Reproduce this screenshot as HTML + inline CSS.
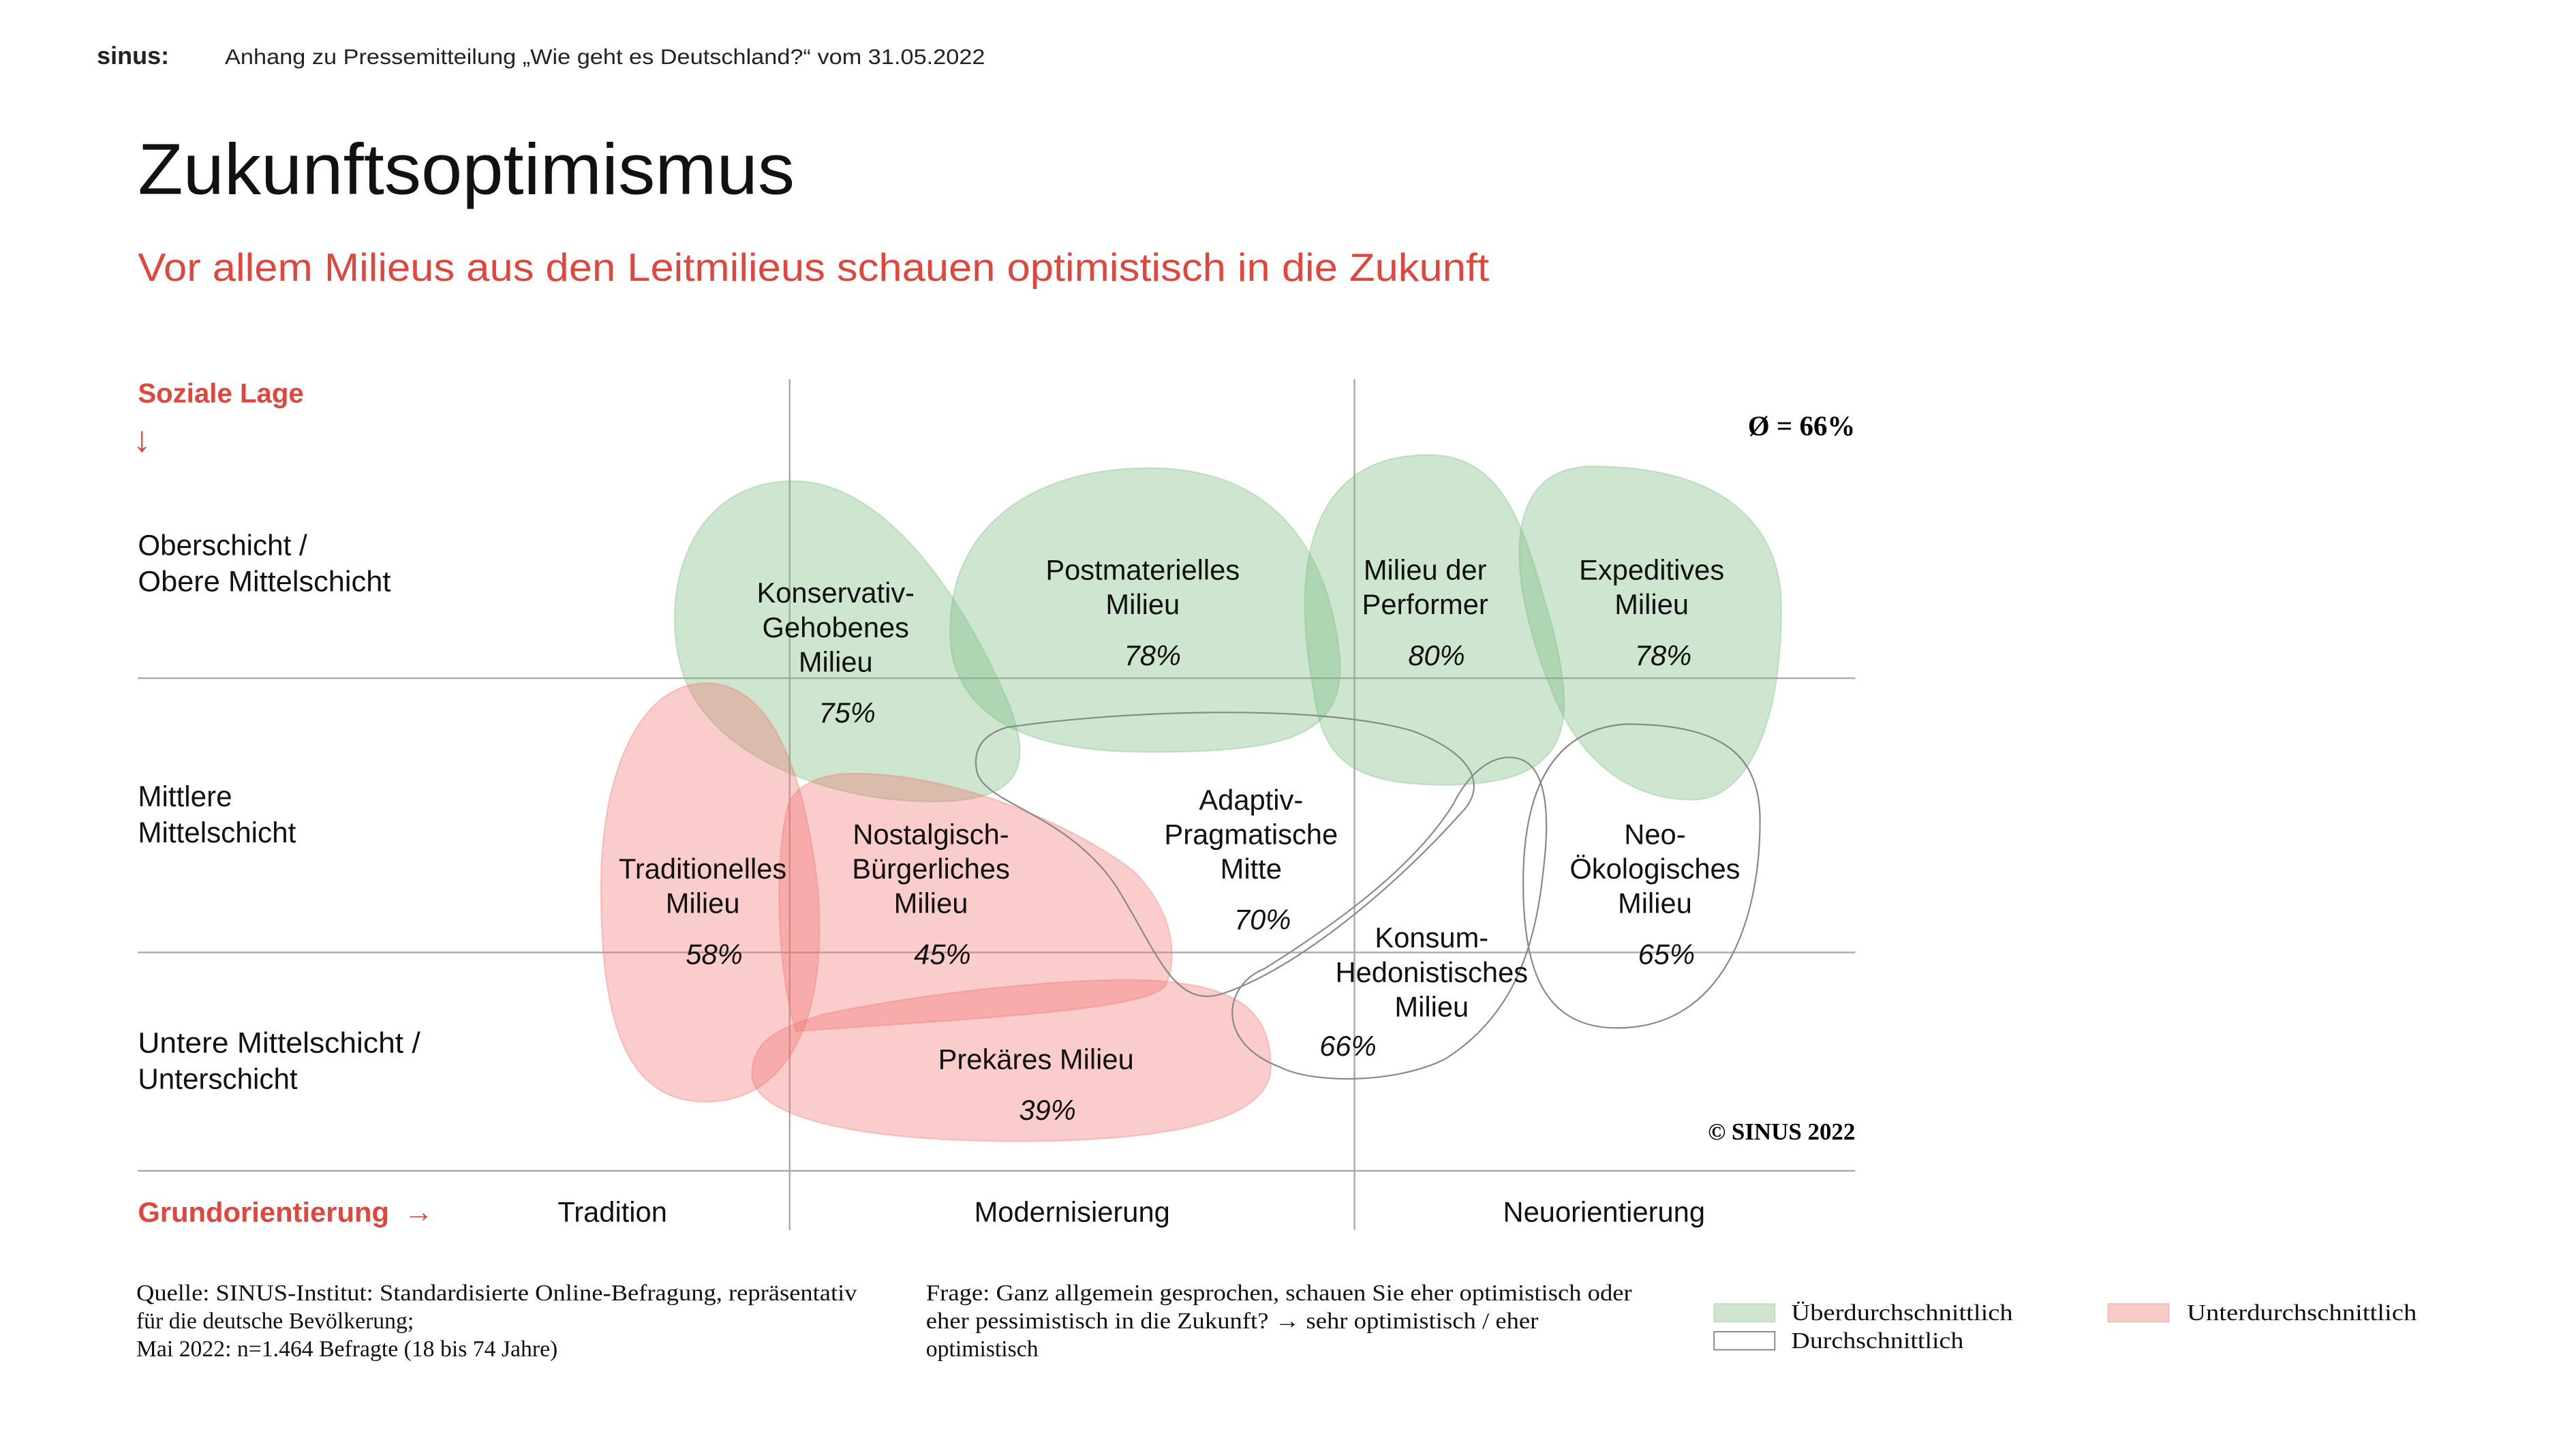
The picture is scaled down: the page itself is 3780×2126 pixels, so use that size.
<!DOCTYPE html>
<html><head><meta charset="utf-8"><style>
html,body{margin:0;padding:0;background:#fff}
svg{display:block}
.s{font-family:"Liberation Sans",sans-serif}
.r{font-family:"Liberation Serif",serif}
.l{font-family:"Liberation Sans",sans-serif;font-size:17.3px;text-anchor:middle;fill:#111}
.p{font-style:italic}
</style></head><body>
<svg width="3780" height="2126" viewBox="0 0 1569 882.4" preserveAspectRatio="none" xmlns="http://www.w3.org/2000/svg">
<text x="59" y="39" class="s" font-size="15" font-weight="bold" fill="#222" textLength="44" lengthAdjust="spacingAndGlyphs">sinus:</text>
<text x="137" y="39" class="s" font-size="13" fill="#222" textLength="463" lengthAdjust="spacingAndGlyphs">Anhang zu Pressemitteilung „Wie geht es Deutschland?“  vom 31.05.2022</text>
<text x="84" y="118" class="s" font-size="44" fill="#111" textLength="400" lengthAdjust="spacingAndGlyphs">Zukunftsoptimismus</text>
<text x="84" y="171" class="s" font-size="24" fill="#e0463c" textLength="823" lengthAdjust="spacingAndGlyphs">Vor allem Milieus aus den Leitmilieus schauen optimistisch in die Zukunft</text>
<text x="84" y="245" class="s" font-size="16.5" font-weight="bold" fill="#e0463c" textLength="101" lengthAdjust="spacingAndGlyphs">Soziale Lage</text>
<text x="81" y="275" class="s" font-size="22" fill="#e0463c">↓</text>
<g stroke="#aaa" stroke-width="1">
<line x1="481" y1="231" x2="481" y2="749"/><line x1="825" y1="231" x2="825" y2="749"/>
<line x1="84" y1="413" x2="1130" y2="413"/><line x1="84" y1="580" x2="1130" y2="580"/><line x1="84" y1="713" x2="1130" y2="713"/>
</g>
<g fill="rgb(120,185,125)" fill-opacity="0.36" stroke="rgb(120,185,125)" stroke-opacity="0.3">
<path d="M480,293 C540,290 590,370 615,430 C630,470 620,490 560,488 C500,486 440,460 420,420 C400,380 410,296 480,293 Z"/>
<path d="M700,285 C780,285 810,340 816,400 C820,450 780,458 700,458 C630,458 590,440 580,400 C570,330 620,285 700,285Z"/>
<path d="M870,277 C920,277 930,330 945,380 C960,440 960,478 880,478 C820,478 805,460 800,420 C785,340 800,277 870,277Z"/>
<path d="M970,284 C1050,284 1085,320 1085,370 C1085,440 1065,488 1030,487 C990,487 960,460 945,420 C920,360 910,284 970,284Z"/>
</g>
<g fill="rgb(240,115,110)" fill-opacity="0.36" stroke="rgb(240,115,110)" stroke-opacity="0.3">
<path d="M430,416 C470,416 490,470 498,540 C505,620 480,671 430,671 C380,671 366,620 366,540 C366,470 390,416 430,416Z"/>
<path d="M520,471 C580,471 650,500 690,530 C720,560 715,590 710,600 C700,615 600,620 485,628 C475,600 470,530 480,490 C485,478 500,471 520,471Z"/>
<path d="M700,597 C760,600 774,620 774,650 C774,680 720,695 620,695 C520,695 460,680 458,655 C458,630 480,625 500,618 C560,605 650,595 700,597Z"/>
</g>
<g fill="none" stroke="#888" stroke-width="0.9">
<path d="M613,443 C680,433 800,428 860,445 C900,460 905,480 890,495 C850,540 790,590 745,605 C715,615 705,580 680,540 C650,495 600,490 595,470 C592,455 600,447 613,443Z"/>
<path d="M925,462 C940,466 945,490 940,530 C935,580 920,620 880,645 C850,660 800,660 780,650 C740,635 745,600 770,590 C810,565 860,530 885,490 C895,470 910,458 925,462Z"/>
<path d="M990,441 C1050,441 1072,460 1072,500 C1072,560 1050,626 985,626 C940,626 930,590 928,550 C926,500 935,445 990,441Z"/>
</g>
<g class="s" font-size="17.5" fill="#111">
<text x="84" y="338">Oberschicht /</text><text x="84" y="360" textLength="154" lengthAdjust="spacingAndGlyphs">Obere Mittelschicht</text>
<text x="84" y="491">Mittlere</text><text x="84" y="513">Mittelschicht</text>
<text x="84" y="641" textLength="172" lengthAdjust="spacingAndGlyphs">Untere Mittelschicht /</text><text x="84" y="663">Unterschicht</text>
</g>
<text x="84" y="744" class="s" font-size="17" font-weight="bold" fill="#e0463c" textLength="153" lengthAdjust="spacingAndGlyphs">Grundorientierung</text>
<text x="246" y="744" class="s" font-size="18" font-weight="bold" fill="#e0463c">→</text>
<g class="l" font-size="17.7">
<text x="373" y="744">Tradition</text><text x="653" y="744">Modernisierung</text><text x="977" y="744">Neuorientierung</text>
</g>
<text x="1130" y="265" class="r" font-size="17" font-weight="bold" text-anchor="end">Ø = 66%</text>
<text x="1130" y="694" class="r" font-size="14.5" font-weight="bold" text-anchor="end">© SINUS 2022</text>
<g class="l">
<text x="509" y="367">Konservativ-</text><text x="509" y="388">Gehobenes</text><text x="509" y="409">Milieu</text><text x="516" y="440" class="p">75%</text>
<text x="696" y="353">Postmaterielles</text><text x="696" y="374">Milieu</text><text x="702" y="405" class="p">78%</text>
<text x="868" y="353">Milieu der</text><text x="868" y="374">Performer</text><text x="875" y="405" class="p">80%</text>
<text x="1006" y="353">Expeditives</text><text x="1006" y="374">Milieu</text><text x="1013" y="405" class="p">78%</text>
<text x="428" y="535">Traditionelles</text><text x="428" y="556">Milieu</text><text x="435" y="587" class="p">58%</text>
<text x="567" y="514">Nostalgisch-</text><text x="567" y="535">Bürgerliches</text><text x="567" y="556">Milieu</text><text x="574" y="587" class="p">45%</text>
<text x="762" y="493">Adaptiv-</text><text x="762" y="514">Pragmatische</text><text x="762" y="535">Mitte</text><text x="769" y="566" class="p">70%</text>
<text x="872" y="577">Konsum-</text><text x="872" y="598">Hedonistisches</text><text x="872" y="619">Milieu</text><text x="821" y="643" class="p">66%</text>
<text x="1008" y="514">Neo-</text><text x="1008" y="535">Ökologisches</text><text x="1008" y="556">Milieu</text><text x="1015" y="587" class="p">65%</text>
<text x="631" y="651">Prekäres Milieu</text><text x="638" y="682" class="p">39%</text>
</g>
<g class="r" font-size="14" fill="#111">
<text x="83" y="792" textLength="439" lengthAdjust="spacingAndGlyphs">Quelle: SINUS-Institut: Standardisierte Online-Befragung, repräsentativ</text>
<text x="83" y="809">für die deutsche Bevölkerung;</text>
<text x="83" y="826">Mai 2022: n=1.464 Befragte (18 bis 74 Jahre)</text>
<text x="564" y="792" textLength="430" lengthAdjust="spacingAndGlyphs">Frage: Ganz allgemein gesprochen, schauen Sie eher optimistisch oder</text>
<text x="564" y="809" textLength="373" lengthAdjust="spacingAndGlyphs">eher pessimistisch in die Zukunft? → sehr optimistisch / eher</text>
<text x="564" y="826">optimistisch</text>
<text x="1091" y="804" textLength="135" lengthAdjust="spacingAndGlyphs">Überdurchschnittlich</text>
<text x="1091" y="821" textLength="105" lengthAdjust="spacingAndGlyphs">Durchschnittlich</text>
<text x="1332" y="804" textLength="140" lengthAdjust="spacingAndGlyphs">Unterdurchschnittlich</text>
</g>
<rect x="1044" y="794" width="37" height="11" fill="#cfe5d0" stroke="#bcd8bd" stroke-width="0.6"/>
<rect x="1044" y="811" width="37" height="11" fill="#fff" stroke="#888" stroke-width="0.8"/>
<rect x="1284" y="794" width="37" height="11" fill="#f8cac8" stroke="#f0b4b2" stroke-width="0.6"/>
</svg>
</body></html>
